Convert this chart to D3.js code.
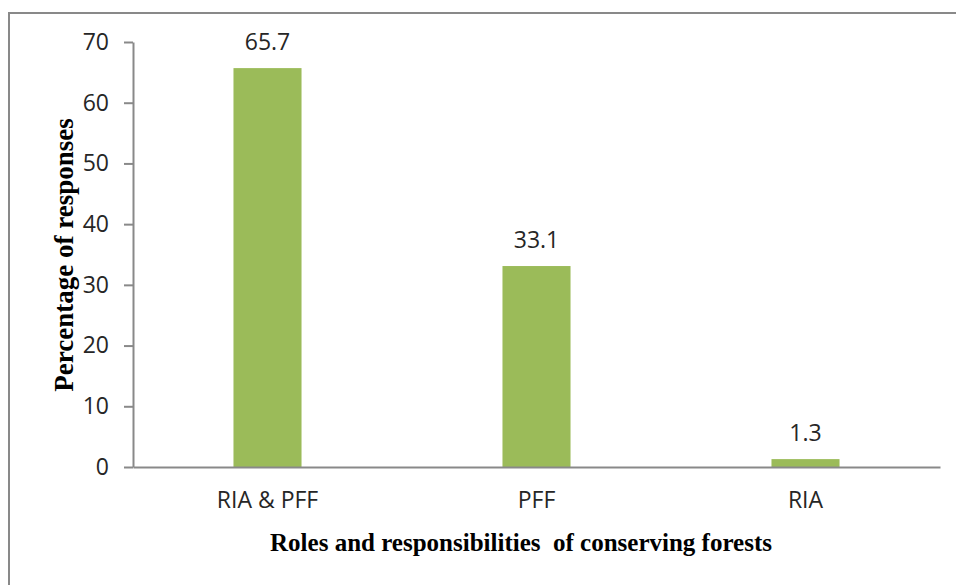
<!DOCTYPE html>
<html>
<head>
<meta charset="utf-8">
<script src="https://cdn.jsdelivr.net/npm/d3@7/dist/d3.min.js"></script>
<style>
  html, body { margin: 0; padding: 0; background: #fff; }
  svg { display: block; }
</style>
</head>
<body>
<svg id="chart" width="956" height="585"></svg>
<script>
// Survey responses on who holds the roles of conserving forests
const categories = ["RIA & PFF", "PFF", "RIA"];
const percentages = [65.7, 33.1, 1.3];
const yTicks = [0, 10, 20, 30, 40, 50, 60, 70];
const yTitle = "Percentage of responses";
const xTitle = "Roles and responsibilities  of conserving forests";

const svg = d3.select("#chart");
const W = 956, H = 585;
const plotLeft = 133, plotRight = 940, plotTop = 42, plotBottom = 467;

const axisColor = "#898989";
const barColor = "#9BBB59";
const sansFont = "'Open Sans', sans-serif";
const serifFont = "'Liberation Serif', 'Times New Roman', serif";
const labelSize = 23;

// outer frame
svg.append("rect")
  .attr("x", 9).attr("y", 13)
  .attr("width", W + 20).attr("height", H + 20)
  .attr("fill", "none")
  .attr("stroke", axisColor)
  .attr("stroke-width", 2);

const x = d3.scaleBand().domain(categories).range([plotLeft, plotRight]).paddingInner(0.747).paddingOuter(0.3735);
const y = d3.scaleLinear().domain([0, 70]).range([plotBottom, plotTop]);

// bars
svg.append("g").selectAll("rect")
  .data(categories)
  .join("rect")
  .attr("x", d => x(d))
  .attr("y", (d, i) => y(percentages[i]))
  .attr("width", x.bandwidth())
  .attr("height", (d, i) => y(0) - y(percentages[i]))
  .attr("fill", barColor);

// value labels
svg.append("g").selectAll("text")
  .data(categories)
  .join("text")
  .attr("x", d => x(d) + x.bandwidth() / 2)
  .attr("y", (d, i) => y(percentages[i]) - 18)
  .attr("text-anchor", "middle")
  .attr("font-family", sansFont)
  .attr("font-size", labelSize)
  .attr("fill", "#262626")
  .text((d, i) => percentages[i]);

// y axis
const yAxis = svg.append("g")
  .attr("transform", `translate(${plotLeft},0)`)
  .call(d3.axisLeft(y).tickValues(yTicks).tickSize(9).tickPadding(15).tickSizeOuter(0));
yAxis.select(".domain").attr("stroke", axisColor).attr("stroke-width", 2);
yAxis.selectAll(".tick line").attr("stroke", axisColor).attr("stroke-width", 2);
yAxis.selectAll(".tick text")
  .attr("font-family", sansFont).attr("font-size", labelSize).attr("fill", "#262626");

// x axis
const xAxis = svg.append("g")
  .attr("transform", `translate(0,${plotBottom})`)
  .call(d3.axisBottom(x).tickSize(0).tickPadding(25).tickSizeOuter(0));
xAxis.select(".domain").attr("stroke", axisColor).attr("stroke-width", 2);
xAxis.selectAll(".tick text")
  .attr("font-family", sansFont).attr("font-size", labelSize).attr("fill", "#262626");

// axis titles
svg.append("text")
  .attr("x", 521).attr("y", 551)
  .attr("text-anchor", "middle")
  .attr("font-family", serifFont)
  .attr("font-weight", "bold")
  .attr("font-size", 25)
  .attr("fill", "#000")
  .style("white-space", "pre")
  .text(xTitle);

svg.append("text")
  .attr("transform", "translate(73,255) rotate(-90)")
  .attr("text-anchor", "middle")
  .attr("font-family", serifFont)
  .attr("font-weight", "bold")
  .attr("font-size", 27)
  .attr("fill", "#000")
  .text(yTitle);
</script>
</body>
</html>
